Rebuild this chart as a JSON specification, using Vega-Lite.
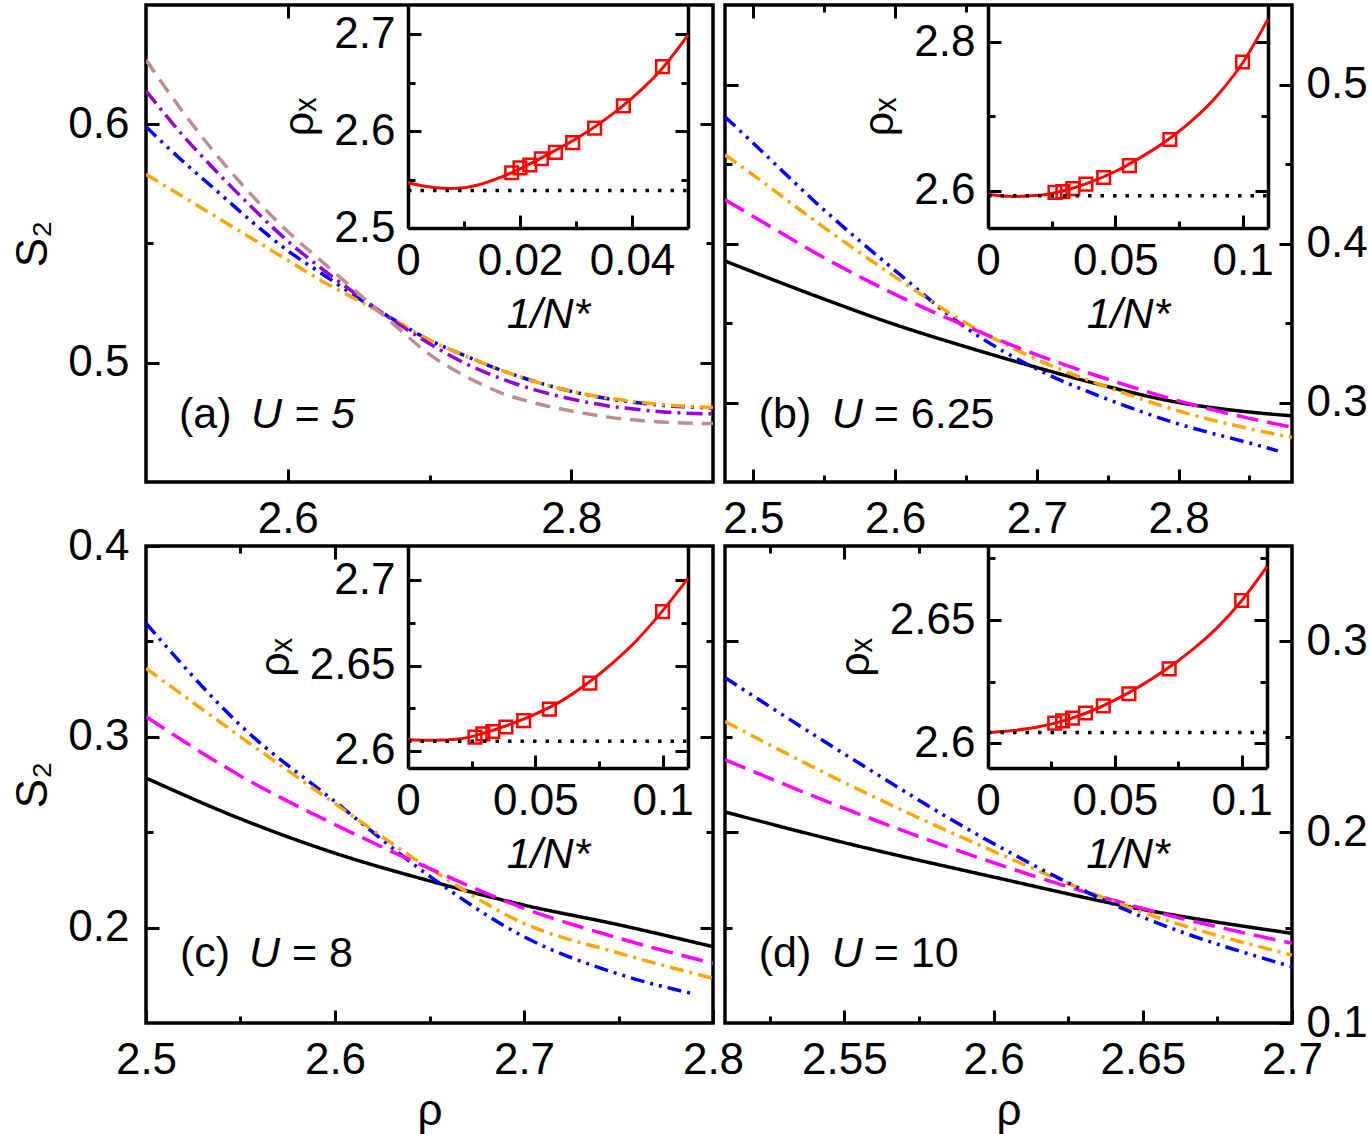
{
  "$schema": "https://vega.github.io/schema/vega-lite/v6.json",
  "background": "white",
  "padding": {"left": 10, "top": 1, "right": 3, "bottom": 3},
  "datasets": {
    "a_main": [
      {"series":"blue","rho":2.5,"S2":0.599},{"series":"blue","rho":2.525,"S2":0.585},{"series":"blue","rho":2.55,"S2":0.572},{"series":"blue","rho":2.575,"S2":0.559},{"series":"blue","rho":2.6,"S2":0.547},{"series":"blue","rho":2.625,"S2":0.537},{"series":"blue","rho":2.65,"S2":0.527},{"series":"blue","rho":2.675,"S2":0.518},{"series":"blue","rho":2.7,"S2":0.5095},{"series":"blue","rho":2.725,"S2":0.503},{"series":"blue","rho":2.75,"S2":0.497},{"series":"blue","rho":2.775,"S2":0.492},{"series":"blue","rho":2.8,"S2":0.488},{"series":"blue","rho":2.825,"S2":0.485},{"series":"blue","rho":2.85,"S2":0.483},{"series":"blue","rho":2.875,"S2":0.4817},{"series":"blue","rho":2.9,"S2":0.481},
      {"series":"orange","rho":2.5,"S2":0.579},{"series":"orange","rho":2.525,"S2":0.570},{"series":"orange","rho":2.55,"S2":0.561},{"series":"orange","rho":2.575,"S2":0.552},{"series":"orange","rho":2.6,"S2":0.543},{"series":"orange","rho":2.625,"S2":0.534},{"series":"orange","rho":2.65,"S2":0.526},{"series":"orange","rho":2.675,"S2":0.518},{"series":"orange","rho":2.7,"S2":0.5095},{"series":"orange","rho":2.725,"S2":0.503},{"series":"orange","rho":2.75,"S2":0.497},{"series":"orange","rho":2.775,"S2":0.492},{"series":"orange","rho":2.8,"S2":0.488},{"series":"orange","rho":2.825,"S2":0.4853},{"series":"orange","rho":2.85,"S2":0.4833},{"series":"orange","rho":2.875,"S2":0.482},{"series":"orange","rho":2.9,"S2":0.4812},
      {"series":"purple","rho":2.5,"S2":0.614},{"series":"purple","rho":2.525,"S2":0.596},{"series":"purple","rho":2.55,"S2":0.580},{"series":"purple","rho":2.575,"S2":0.565},{"series":"purple","rho":2.6,"S2":0.551},{"series":"purple","rho":2.625,"S2":0.539},{"series":"purple","rho":2.65,"S2":0.528},{"series":"purple","rho":2.675,"S2":0.5175},{"series":"purple","rho":2.7,"S2":0.508},{"series":"purple","rho":2.725,"S2":0.4998},{"series":"purple","rho":2.75,"S2":0.4935},{"series":"purple","rho":2.775,"S2":0.4885},{"series":"purple","rho":2.8,"S2":0.4848},{"series":"purple","rho":2.825,"S2":0.482},{"series":"purple","rho":2.85,"S2":0.4802},{"series":"purple","rho":2.875,"S2":0.479},{"series":"purple","rho":2.9,"S2":0.4786},
      {"series":"brown","rho":2.5,"S2":0.627},{"series":"brown","rho":2.525,"S2":0.606},{"series":"brown","rho":2.55,"S2":0.587},{"series":"brown","rho":2.575,"S2":0.570},{"series":"brown","rho":2.6,"S2":0.555},{"series":"brown","rho":2.625,"S2":0.542},{"series":"brown","rho":2.65,"S2":0.529},{"series":"brown","rho":2.675,"S2":0.516},{"series":"brown","rho":2.7,"S2":0.5035},{"series":"brown","rho":2.725,"S2":0.4945},{"series":"brown","rho":2.75,"S2":0.4875},{"series":"brown","rho":2.775,"S2":0.483},{"series":"brown","rho":2.8,"S2":0.4798},{"series":"brown","rho":2.825,"S2":0.4773},{"series":"brown","rho":2.85,"S2":0.4757},{"series":"brown","rho":2.875,"S2":0.4748},{"series":"brown","rho":2.9,"S2":0.4745}
    ],
    "b_main": [
      {"series":"black","rho":2.48,"S2":0.389},{"series":"black","rho":2.5,"S2":0.382},{"series":"black","rho":2.55,"S2":0.365},{"series":"black","rho":2.6,"S2":0.349},{"series":"black","rho":2.65,"S2":0.335},{"series":"black","rho":2.7,"S2":0.322},{"series":"black","rho":2.75,"S2":0.310},{"series":"black","rho":2.8,"S2":0.300},{"series":"black","rho":2.85,"S2":0.294},{"series":"black","rho":2.88,"S2":0.2916},
      {"series":"blue","rho":2.48,"S2":0.4797},{"series":"blue","rho":2.5,"S2":0.463},{"series":"blue","rho":2.55,"S2":0.421},{"series":"blue","rho":2.6,"S2":0.383},{"series":"blue","rho":2.65,"S2":0.347},{"series":"blue","rho":2.7,"S2":0.321},{"series":"blue","rho":2.75,"S2":0.302},{"series":"blue","rho":2.8,"S2":0.2865},{"series":"blue","rho":2.85,"S2":0.2745},{"series":"blue","rho":2.87,"S2":0.2696},
      {"series":"orange","rho":2.48,"S2":0.4558},{"series":"orange","rho":2.5,"S2":0.443},{"series":"orange","rho":2.55,"S2":0.410},{"series":"orange","rho":2.6,"S2":0.379},{"series":"orange","rho":2.65,"S2":0.350},{"series":"orange","rho":2.7,"S2":0.327},{"series":"orange","rho":2.75,"S2":0.3096},{"series":"orange","rho":2.8,"S2":0.2947},{"series":"orange","rho":2.85,"S2":0.2835},{"series":"orange","rho":2.88,"S2":0.278},
      {"series":"magenta","rho":2.48,"S2":0.4276},{"series":"magenta","rho":2.5,"S2":0.417},{"series":"magenta","rho":2.55,"S2":0.391},{"series":"magenta","rho":2.6,"S2":0.368},{"series":"magenta","rho":2.65,"S2":0.348},{"series":"magenta","rho":2.7,"S2":0.330},{"series":"magenta","rho":2.75,"S2":0.3146},{"series":"magenta","rho":2.8,"S2":0.301},{"series":"magenta","rho":2.85,"S2":0.290},{"series":"magenta","rho":2.88,"S2":0.2845}
    ],
    "c_main": [
      {"series":"black","rho":2.5,"S2":0.2784},{"series":"black","rho":2.55,"S2":0.257},{"series":"black","rho":2.6,"S2":0.239},{"series":"black","rho":2.65,"S2":0.2245},{"series":"black","rho":2.7,"S2":0.2118},{"series":"black","rho":2.75,"S2":0.2015},{"series":"black","rho":2.8,"S2":0.190},
      {"series":"blue","rho":2.5,"S2":0.3595},{"series":"blue","rho":2.55,"S2":0.306},{"series":"blue","rho":2.6,"S2":0.266},{"series":"blue","rho":2.65,"S2":0.227},{"series":"blue","rho":2.7,"S2":0.1952},{"series":"blue","rho":2.75,"S2":0.1757},{"series":"blue","rho":2.79,"S2":0.1652},
      {"series":"orange","rho":2.5,"S2":0.3359},{"series":"orange","rho":2.55,"S2":0.300},{"series":"orange","rho":2.6,"S2":0.265},{"series":"orange","rho":2.65,"S2":0.231},{"series":"orange","rho":2.7,"S2":0.2022},{"series":"orange","rho":2.75,"S2":0.1867},{"series":"orange","rho":2.8,"S2":0.1734},
      {"series":"magenta","rho":2.5,"S2":0.3105},{"series":"magenta","rho":2.55,"S2":0.2795},{"series":"magenta","rho":2.6,"S2":0.254},{"series":"magenta","rho":2.65,"S2":0.231},{"series":"magenta","rho":2.7,"S2":0.2101},{"series":"magenta","rho":2.75,"S2":0.1945},{"series":"magenta","rho":2.8,"S2":0.1813}
    ],
    "d_main": [
      {"series":"black","rho":2.51,"S2":0.2106},{"series":"black","rho":2.55,"S2":0.1945},{"series":"black","rho":2.6,"S2":0.1765},{"series":"black","rho":2.65,"S2":0.1595},{"series":"black","rho":2.7,"S2":0.147},
      {"series":"magenta","rho":2.51,"S2":0.238},{"series":"magenta","rho":2.55,"S2":0.2125},{"series":"magenta","rho":2.6,"S2":0.184},{"series":"magenta","rho":2.65,"S2":0.160},{"series":"magenta","rho":2.7,"S2":0.1418},
      {"series":"orange","rho":2.51,"S2":0.258},{"series":"orange","rho":2.55,"S2":0.226},{"series":"orange","rho":2.6,"S2":0.190},{"series":"orange","rho":2.65,"S2":0.158},{"series":"orange","rho":2.7,"S2":0.1356},
      {"series":"blue","rho":2.51,"S2":0.281},{"series":"blue","rho":2.55,"S2":0.241},{"series":"blue","rho":2.6,"S2":0.194},{"series":"blue","rho":2.65,"S2":0.1555},{"series":"blue","rho":2.7,"S2":0.1295}
    ],
    "a_fit": [
      {"invN":0,"rhox":2.547},{"invN":0.0025,"rhox":2.5435},{"invN":0.005,"rhox":2.5415},{"invN":0.0075,"rhox":2.5408},{"invN":0.01,"rhox":2.5415},{"invN":0.0125,"rhox":2.5443},{"invN":0.015,"rhox":2.549},{"invN":0.0175,"rhox":2.5545},{"invN":0.02,"rhox":2.561},{"invN":0.025,"rhox":2.576},{"invN":0.03,"rhox":2.592},{"invN":0.035,"rhox":2.611},{"invN":0.04,"rhox":2.634},{"invN":0.045,"rhox":2.662},{"invN":0.05,"rhox":2.699}
    ],
    "a_pts": [
      {"invN":0.04545,"rhox":2.6664},{"invN":0.03846,"rhox":2.626},{"invN":0.03333,"rhox":2.603},{"invN":0.02941,"rhox":2.588},{"invN":0.02632,"rhox":2.578},{"invN":0.02381,"rhox":2.5714},{"invN":0.02174,"rhox":2.565},{"invN":0.02,"rhox":2.562},{"invN":0.01852,"rhox":2.557}
    ],
    "a_lim": [{"invN":0,"rhox":2.5387},{"invN":0.05,"rhox":2.5387}],
    "b_fit": [
      {"invN":0,"rhox":2.5955},{"invN":0.01,"rhox":2.5925},{"invN":0.02,"rhox":2.594},{"invN":0.03,"rhox":2.6005},{"invN":0.04,"rhox":2.6115},{"invN":0.05,"rhox":2.626},{"invN":0.06,"rhox":2.645},{"invN":0.07,"rhox":2.667},{"invN":0.08,"rhox":2.694},{"invN":0.09,"rhox":2.728},{"invN":0.1,"rhox":2.772},{"invN":0.11,"rhox":2.831}
    ],
    "b_pts": [
      {"invN":0.1,"rhox":2.7733},{"invN":0.07143,"rhox":2.669},{"invN":0.05556,"rhox":2.634},{"invN":0.04545,"rhox":2.618},{"invN":0.03846,"rhox":2.609},{"invN":0.03333,"rhox":2.603},{"invN":0.02941,"rhox":2.599},{"invN":0.02632,"rhox":2.598}
    ],
    "b_lim": [{"invN":0,"rhox":2.5935},{"invN":0.11,"rhox":2.5935}],
    "c_fit": [
      {"invN":0,"rhox":2.6065},{"invN":0.01,"rhox":2.6062},{"invN":0.02,"rhox":2.607},{"invN":0.03,"rhox":2.6105},{"invN":0.04,"rhox":2.6155},{"invN":0.05,"rhox":2.6215},{"invN":0.06,"rhox":2.629},{"invN":0.07,"rhox":2.639},{"invN":0.08,"rhox":2.651},{"invN":0.09,"rhox":2.665},{"invN":0.1,"rhox":2.682},{"invN":0.11,"rhox":2.701}
    ],
    "c_pts": [
      {"invN":0.1,"rhox":2.6816},{"invN":0.07143,"rhox":2.6397},{"invN":0.05556,"rhox":2.6245},{"invN":0.04545,"rhox":2.6177},{"invN":0.03846,"rhox":2.614},{"invN":0.03333,"rhox":2.6114},{"invN":0.02941,"rhox":2.61},{"invN":0.02632,"rhox":2.6081}
    ],
    "c_lim": [{"invN":0,"rhox":2.6056},{"invN":0.11,"rhox":2.6056}],
    "d_fit": [
      {"invN":0,"rhox":2.6044},{"invN":0.01,"rhox":2.6052},{"invN":0.02,"rhox":2.6067},{"invN":0.03,"rhox":2.6092},{"invN":0.04,"rhox":2.6128},{"invN":0.05,"rhox":2.6175},{"invN":0.06,"rhox":2.6232},{"invN":0.07,"rhox":2.6298},{"invN":0.08,"rhox":2.6375},{"invN":0.09,"rhox":2.6465},{"invN":0.1,"rhox":2.6578},{"invN":0.11,"rhox":2.6716}
    ],
    "d_pts": [
      {"invN":0.1,"rhox":2.6579},{"invN":0.07143,"rhox":2.6302},{"invN":0.05556,"rhox":2.6201},{"invN":0.04545,"rhox":2.6152},{"invN":0.03846,"rhox":2.6123},{"invN":0.03333,"rhox":2.6102},{"invN":0.02941,"rhox":2.6091},{"invN":0.02632,"rhox":2.6082}
    ],
    "d_lim": [{"invN":0,"rhox":2.6044},{"invN":0.11,"rhox":2.6044}],
    "labels": [
      {"panel":"a","tag":"(a)","ital":"U = 5","rom":""},
      {"panel":"b","tag":"(b)","ital":"U","rom":"= 6.25"},
      {"panel":"c","tag":"(c)","ital":"U","rom":"= 8"},
      {"panel":"d","tag":"(d)","ital":"U","rom":"= 10"}
    ]
  },
  "columns": 2,
  "spacing": {"row": 64, "column": 12},
  "bounds": "flush",
  "concat": [
    {
      "width": 567, "height": 477,
      "resolve": {"scale": {"x": "independent", "y": "independent"}},
      "layer": [
        {
          "data": {"name": "a_main"},
          "mark": {"type": "line", "strokeWidth": 3.5, "clip": true, "interpolate": "monotone"},
          "encoding": {
            "x": {"field": "rho", "type": "quantitative", "scale": {"domain": [2.5, 2.9], "nice": false, "zero": false},
              "axis": {"orient": "bottom", "values": [2.6, 2.7, 2.8], "domain": false, "title": null, "labelPadding": 28,
                "labelExpr": "indexof([2.6,2.8], datum.value) >= 0 ? format(datum.value, '~g') : ''",
                "tickSize": {"condition": {"test": "indexof([2.6,2.8], datum.value) >= 0", "value": -13}, "value": -7}}},
            "y": {"field": "S2", "type": "quantitative", "scale": {"domain": [0.45, 0.65], "nice": false, "zero": false},
              "axis": {"orient": "left", "values": [0.5, 0.55, 0.6], "domain": false, "title": "S₂", "titlePadding": 12, "labelPadding": 30,
                "labelExpr": "indexof([0.5,0.6], datum.value) >= 0 ? format(datum.value, '~g') : ''",
                "tickSize": {"condition": {"test": "indexof([0.5,0.6], datum.value) >= 0", "value": -13}, "value": -7}}},
            "color": {"field": "series", "type": "nominal", "legend": null, "scale": {"domain": ["blue","orange","purple","brown","magenta","black"], "range": ["#0000ff","#ffa500","#9400d3","#bc8f8f","#ff00ff","#000000"]}},
            "strokeDash": {"field": "series", "type": "nominal", "legend": null, "scale": {"domain": ["blue","orange","purple","brown","magenta","black"], "range": [[14,6,3,6,3,6],[14,6,3,6],[16,6,3,6],[15,9],[22,9],[1,0]]}}
          }
        },
        {
          "data": {"name": "a_main"},
          "mark": {"type": "point", "opacity": 0},
          "encoding": {
            "x": {"field": "rho", "type": "quantitative", "scale": {"domain": [2.5, 2.9], "nice": false, "zero": false},
              "axis": {"orient": "top", "values": [2.6], "domain": false, "labels": false, "title": null, "tickSize": -13}},
            "y": {"field": "S2", "type": "quantitative", "scale": {"domain": [0.45, 0.65], "nice": false, "zero": false},
              "axis": {"orient": "right", "values": [0.5, 0.55, 0.6], "domain": false, "labels": false, "title": null,
                "tickSize": {"condition": {"test": "indexof([0.5,0.6], datum.value) >= 0", "value": -13}, "value": -7}}}
          }
        },
        {
          "data": {"name": "labels"},
          "transform": [{"filter": "datum.panel === 'a'"}],
          "mark": {"type": "text", "align": "left", "baseline": "alphabetic", "fontSize": 43},
          "encoding": {
            "x": {"datum": 2.5233, "type": "quantitative", "scale": {"domain": [2.5, 2.9], "nice": false, "zero": false}, "axis": null},
            "y": {"datum": 0.4726, "type": "quantitative", "scale": {"domain": [0.45, 0.65], "nice": false, "zero": false}, "axis": null},
            "text": {"field": "tag"}
          }
        },
        {
          "data": {"name": "labels"},
          "transform": [{"filter": "datum.panel === 'a'"}],
          "mark": {"type": "text", "align": "left", "baseline": "alphabetic", "fontSize": 43, "fontStyle": "italic", "dx": 72},
          "encoding": {
            "x": {"datum": 2.5233, "type": "quantitative", "scale": {"domain": [2.5, 2.9], "nice": false, "zero": false}, "axis": null},
            "y": {"datum": 0.4726, "type": "quantitative", "scale": {"domain": [0.45, 0.65], "nice": false, "zero": false}, "axis": null},
            "text": {"field": "ital"}
          }
        },
        {
          "data": {"name": "a_fit"},
          "mark": {"type": "line", "color": "#ff0000", "strokeWidth": 3, "interpolate": "monotone"},
          "encoding": {
            "x": {"field": "invN", "type": "quantitative", "scale": {"domain": [0, 0.05], "range": [262, 542], "nice": false, "zero": false},
              "axis": {"orient": "bottom", "offset": -254, "values": [0, 0.01, 0.02, 0.03, 0.04], "domain": true, "labelPadding": 24,
                "title": "1/N*", "titleFontStyle": "italic", "titleFontSize": 43, "titlePadding": 4,
                "labelExpr": "indexof([0,0.02,0.04], datum.value) >= 0 ? format(datum.value, '~g') : ''",
                "tickSize": {"condition": {"test": "indexof([0,0.02,0.04], datum.value) >= 0", "value": -13}, "value": -7}}},
            "y": {"field": "rhox", "type": "quantitative", "scale": {"domain": [2.5, 2.73], "range": [223, 0], "nice": false, "zero": false},
              "axis": {"orient": "left", "offset": -262, "values": [2.5, 2.55, 2.6, 2.65, 2.7], "domain": true, "labelPadding": 26,
                "title": "ρₓ", "titleFontSize": 43, "titlePadding": 12,
                "labelExpr": "indexof([2.5,2.6,2.7], datum.value) >= 0 ? format(datum.value, '~g') : ''",
                "tickSize": {"condition": {"test": "indexof([2.5,2.6,2.7], datum.value) >= 0", "value": -13}, "value": -7}}}
          }
        },
        {
          "data": {"name": "a_pts"},
          "mark": {"type": "point", "shape": "square", "filled": false, "color": "#ff0000", "strokeWidth": 2.5, "size": 160, "opacity": 1},
          "encoding": {
            "x": {"field": "invN", "type": "quantitative", "scale": {"domain": [0, 0.05], "range": [262, 542], "nice": false, "zero": false}, "axis": null},
            "y": {"field": "rhox", "type": "quantitative", "scale": {"domain": [2.5, 2.73], "range": [223, 0], "nice": false, "zero": false},
              "axis": {"orient": "right", "offset": -25, "values": [2.5, 2.55, 2.6, 2.65, 2.7], "domain": true, "labels": false, "title": null,
                "tickSize": {"condition": {"test": "indexof([2.5,2.6,2.7], datum.value) >= 0", "value": -13}, "value": -7}}}
          }
        },
        {
          "data": {"name": "a_lim"},
          "mark": {"type": "line", "color": "black", "strokeWidth": 3.5, "strokeDash": [3.5, 9]},
          "encoding": {
            "x": {"field": "invN", "type": "quantitative", "scale": {"domain": [0, 0.05], "range": [262, 542], "nice": false, "zero": false}, "axis": null},
            "y": {"field": "rhox", "type": "quantitative", "scale": {"domain": [2.5, 2.73], "range": [223, 0], "nice": false, "zero": false}, "axis": null}
          }
        }
      ]
    },
    {
      "width": 567, "height": 477,
      "resolve": {"scale": {"x": "independent", "y": "independent"}},
      "layer": [
        {
          "data": {"name": "b_main"},
          "mark": {"type": "line", "strokeWidth": 3.5, "clip": true, "interpolate": "monotone"},
          "encoding": {
            "x": {"field": "rho", "type": "quantitative", "scale": {"domain": [2.48, 2.88], "nice": false, "zero": false},
              "axis": {"orient": "bottom", "values": [2.5, 2.55, 2.6, 2.65, 2.7, 2.75, 2.8, 2.85], "domain": false, "title": null, "labelPadding": 28,
                "labelExpr": "indexof([2.5,2.6,2.7,2.8], datum.value) >= 0 ? format(datum.value, '~g') : ''",
                "tickSize": {"condition": {"test": "indexof([2.5,2.6,2.7,2.8], datum.value) >= 0", "value": -13}, "value": -7}}},
            "y": {"field": "S2", "type": "quantitative", "scale": {"domain": [0.25, 0.55], "nice": false, "zero": false},
              "axis": {"orient": "right", "values": [0.3, 0.35, 0.4, 0.45, 0.5], "domain": false, "title": null, "labelPadding": 27,
                "labelExpr": "indexof([0.3,0.4,0.5], datum.value) >= 0 ? format(datum.value, '~g') : ''",
                "tickSize": {"condition": {"test": "indexof([0.3,0.4,0.5], datum.value) >= 0", "value": -13}, "value": -7}}},
            "color": {"field": "series", "type": "nominal", "legend": null, "scale": {"domain": ["blue","orange","purple","brown","magenta","black"], "range": ["#0000ff","#ffa500","#9400d3","#bc8f8f","#ff00ff","#000000"]}},
            "strokeDash": {"field": "series", "type": "nominal", "legend": null, "scale": {"domain": ["blue","orange","purple","brown","magenta","black"], "range": [[14,6,3,6,3,6],[14,6,3,6],[16,6,3,6],[15,9],[22,9],[1,0]]}}
          }
        },
        {
          "data": {"name": "b_main"},
          "mark": {"type": "point", "opacity": 0},
          "encoding": {
            "x": {"field": "rho", "type": "quantitative", "scale": {"domain": [2.48, 2.88], "nice": false, "zero": false},
              "axis": {"orient": "top", "values": [2.5, 2.55, 2.6, 2.65], "domain": false, "labels": false, "title": null,
                "tickSize": {"condition": {"test": "indexof([2.5,2.6], datum.value) >= 0", "value": -13}, "value": -7}}},
            "y": {"field": "S2", "type": "quantitative", "scale": {"domain": [0.25, 0.55], "nice": false, "zero": false},
              "axis": {"orient": "left", "values": [0.3, 0.35, 0.4, 0.45, 0.5], "domain": false, "labels": false, "title": null,
                "tickSize": {"condition": {"test": "indexof([0.3,0.4,0.5], datum.value) >= 0", "value": -13}, "value": -7}}}
          }
        },
        {
          "data": {"name": "labels"},
          "transform": [{"filter": "datum.panel === 'b'"}],
          "mark": {"type": "text", "align": "left", "baseline": "alphabetic", "fontSize": 43},
          "encoding": {
            "x": {"datum": 2.5038, "type": "quantitative", "scale": {"domain": [2.48, 2.88], "nice": false, "zero": false}, "axis": null},
            "y": {"datum": 0.284, "type": "quantitative", "scale": {"domain": [0.25, 0.55], "nice": false, "zero": false}, "axis": null},
            "text": {"field": "tag"}
          }
        },
        {
          "data": {"name": "labels"},
          "transform": [{"filter": "datum.panel === 'b'"}],
          "mark": {"type": "text", "align": "left", "baseline": "alphabetic", "fontSize": 43, "fontStyle": "italic", "dx": 73},
          "encoding": {
            "x": {"datum": 2.5038, "type": "quantitative", "scale": {"domain": [2.48, 2.88], "nice": false, "zero": false}, "axis": null},
            "y": {"datum": 0.284, "type": "quantitative", "scale": {"domain": [0.25, 0.55], "nice": false, "zero": false}, "axis": null},
            "text": {"field": "ital"}
          }
        },
        {
          "data": {"name": "labels"},
          "transform": [{"filter": "datum.panel === 'b'"}],
          "mark": {"type": "text", "align": "left", "baseline": "alphabetic", "fontSize": 43, "dx": 115},
          "encoding": {
            "x": {"datum": 2.5038, "type": "quantitative", "scale": {"domain": [2.48, 2.88], "nice": false, "zero": false}, "axis": null},
            "y": {"datum": 0.284, "type": "quantitative", "scale": {"domain": [0.25, 0.55], "nice": false, "zero": false}, "axis": null},
            "text": {"field": "rom"}
          }
        },
        {
          "data": {"name": "b_fit"},
          "mark": {"type": "line", "color": "#ff0000", "strokeWidth": 3, "interpolate": "monotone"},
          "encoding": {
            "x": {"field": "invN", "type": "quantitative", "scale": {"domain": [0, 0.11], "range": [263, 543], "nice": false, "zero": false},
              "axis": {"orient": "bottom", "offset": -254, "values": [0, 0.025, 0.05, 0.075, 0.1], "domain": true, "labelPadding": 24,
                "title": "1/N*", "titleFontStyle": "italic", "titleFontSize": 43, "titlePadding": 4,
                "labelExpr": "indexof([0,0.05,0.1], datum.value) >= 0 ? format(datum.value, '~g') : ''",
                "tickSize": {"condition": {"test": "indexof([0,0.05,0.1], datum.value) >= 0", "value": -13}, "value": -7}}},
            "y": {"field": "rhox", "type": "quantitative", "scale": {"domain": [2.55, 2.85], "range": [223, 0], "nice": false, "zero": false},
              "axis": {"orient": "left", "offset": -263, "values": [2.6, 2.7, 2.8], "domain": true, "labelPadding": 26,
                "title": "ρₓ", "titleFontSize": 43, "titlePadding": 12,
                "labelExpr": "indexof([2.6,2.8], datum.value) >= 0 ? format(datum.value, '~g') : ''",
                "tickSize": {"condition": {"test": "indexof([2.6,2.8], datum.value) >= 0", "value": -13}, "value": -7}}}
          }
        },
        {
          "data": {"name": "b_pts"},
          "mark": {"type": "point", "shape": "square", "filled": false, "color": "#ff0000", "strokeWidth": 2.5, "size": 160, "opacity": 1},
          "encoding": {
            "x": {"field": "invN", "type": "quantitative", "scale": {"domain": [0, 0.11], "range": [263, 543], "nice": false, "zero": false}, "axis": null},
            "y": {"field": "rhox", "type": "quantitative", "scale": {"domain": [2.55, 2.85], "range": [223, 0], "nice": false, "zero": false},
              "axis": {"orient": "right", "offset": -24, "values": [2.6, 2.7, 2.8], "domain": true, "labels": false, "title": null,
                "tickSize": {"condition": {"test": "indexof([2.6,2.8], datum.value) >= 0", "value": -13}, "value": -7}}}
          }
        },
        {
          "data": {"name": "b_lim"},
          "mark": {"type": "line", "color": "black", "strokeWidth": 3.5, "strokeDash": [3.5, 9]},
          "encoding": {
            "x": {"field": "invN", "type": "quantitative", "scale": {"domain": [0, 0.11], "range": [263, 543], "nice": false, "zero": false}, "axis": null},
            "y": {"field": "rhox", "type": "quantitative", "scale": {"domain": [2.55, 2.85], "range": [223, 0], "nice": false, "zero": false}, "axis": null}
          }
        }
      ]
    },
    {
      "width": 567, "height": 477,
      "resolve": {"scale": {"x": "independent", "y": "independent"}},
      "layer": [
        {
          "data": {"name": "c_main"},
          "mark": {"type": "line", "strokeWidth": 3.5, "clip": true, "interpolate": "monotone"},
          "encoding": {
            "x": {"field": "rho", "type": "quantitative", "scale": {"domain": [2.5, 2.8], "nice": false, "zero": false},
              "axis": {"orient": "bottom", "values": [2.5, 2.55, 2.6, 2.65, 2.7, 2.75, 2.8], "domain": false, "title": "ρ", "titleFontSize": 44, "titlePadding": 1, "labelPadding": 28,
                "labelExpr": "indexof([2.5,2.6,2.7,2.8], datum.value) >= 0 ? format(datum.value, '~g') : ''",
                "tickSize": {"condition": {"test": "indexof([2.5,2.6,2.7,2.8], datum.value) >= 0", "value": -13}, "value": -7}}},
            "y": {"field": "S2", "type": "quantitative", "scale": {"domain": [0.15, 0.4], "nice": false, "zero": false},
              "axis": {"orient": "left", "values": [0.2, 0.25, 0.3, 0.35, 0.4], "domain": false, "title": "S₂", "titlePadding": 12, "labelPadding": 30,
                "labelExpr": "indexof([0.2,0.3,0.4], datum.value) >= 0 ? format(datum.value, '~g') : ''",
                "tickSize": {"condition": {"test": "indexof([0.2,0.3,0.4], datum.value) >= 0", "value": -13}, "value": -7}}},
            "color": {"field": "series", "type": "nominal", "legend": null, "scale": {"domain": ["blue","orange","purple","brown","magenta","black"], "range": ["#0000ff","#ffa500","#9400d3","#bc8f8f","#ff00ff","#000000"]}},
            "strokeDash": {"field": "series", "type": "nominal", "legend": null, "scale": {"domain": ["blue","orange","purple","brown","magenta","black"], "range": [[14,6,3,6,3,6],[14,6,3,6],[16,6,3,6],[15,9],[22,9],[1,0]]}}
          }
        },
        {
          "data": {"name": "c_main"},
          "mark": {"type": "point", "opacity": 0},
          "encoding": {
            "x": {"field": "rho", "type": "quantitative", "scale": {"domain": [2.5, 2.8], "nice": false, "zero": false},
              "axis": {"orient": "top", "values": [2.55, 2.6], "domain": false, "labels": false, "title": null,
                "tickSize": {"condition": {"test": "indexof([2.6], datum.value) >= 0", "value": -13}, "value": -7}}},
            "y": {"field": "S2", "type": "quantitative", "scale": {"domain": [0.15, 0.4], "nice": false, "zero": false},
              "axis": {"orient": "right", "values": [0.2, 0.25, 0.3, 0.35], "domain": false, "labels": false, "title": null,
                "tickSize": {"condition": {"test": "indexof([0.2,0.3], datum.value) >= 0", "value": -13}, "value": -7}}}
          }
        },
        {
          "data": {"name": "labels"},
          "transform": [{"filter": "datum.panel === 'c'"}],
          "mark": {"type": "text", "align": "left", "baseline": "alphabetic", "fontSize": 43},
          "encoding": {
            "x": {"datum": 2.518, "type": "quantitative", "scale": {"domain": [2.5, 2.8], "nice": false, "zero": false}, "axis": null},
            "y": {"datum": 0.1794, "type": "quantitative", "scale": {"domain": [0.15, 0.4], "nice": false, "zero": false}, "axis": null},
            "text": {"field": "tag"}
          }
        },
        {
          "data": {"name": "labels"},
          "transform": [{"filter": "datum.panel === 'c'"}],
          "mark": {"type": "text", "align": "left", "baseline": "alphabetic", "fontSize": 43, "fontStyle": "italic", "dx": 69},
          "encoding": {
            "x": {"datum": 2.518, "type": "quantitative", "scale": {"domain": [2.5, 2.8], "nice": false, "zero": false}, "axis": null},
            "y": {"datum": 0.1794, "type": "quantitative", "scale": {"domain": [0.15, 0.4], "nice": false, "zero": false}, "axis": null},
            "text": {"field": "ital"}
          }
        },
        {
          "data": {"name": "labels"},
          "transform": [{"filter": "datum.panel === 'c'"}],
          "mark": {"type": "text", "align": "left", "baseline": "alphabetic", "fontSize": 43, "dx": 112},
          "encoding": {
            "x": {"datum": 2.518, "type": "quantitative", "scale": {"domain": [2.5, 2.8], "nice": false, "zero": false}, "axis": null},
            "y": {"datum": 0.1794, "type": "quantitative", "scale": {"domain": [0.15, 0.4], "nice": false, "zero": false}, "axis": null},
            "text": {"field": "rom"}
          }
        },
        {
          "data": {"name": "c_fit"},
          "mark": {"type": "line", "color": "#ff0000", "strokeWidth": 3, "interpolate": "monotone"},
          "encoding": {
            "x": {"field": "invN", "type": "quantitative", "scale": {"domain": [0, 0.11], "range": [262, 542], "nice": false, "zero": false},
              "axis": {"orient": "bottom", "offset": -255, "values": [0, 0.025, 0.05, 0.075, 0.1], "domain": true, "labelPadding": 24,
                "title": "1/N*", "titleFontStyle": "italic", "titleFontSize": 43, "titlePadding": 4,
                "labelExpr": "indexof([0,0.05,0.1], datum.value) >= 0 ? format(datum.value, '~g') : ''",
                "tickSize": {"condition": {"test": "indexof([0,0.05,0.1], datum.value) >= 0", "value": -13}, "value": -7}}},
            "y": {"field": "rhox", "type": "quantitative", "scale": {"domain": [2.59, 2.72], "range": [222, 0], "nice": false, "zero": false},
              "axis": {"orient": "left", "offset": -262, "values": [2.6, 2.625, 2.65, 2.675, 2.7], "domain": true, "labelPadding": 26,
                "title": "ρₓ", "titleFontSize": 43, "titlePadding": 12,
                "labelExpr": "indexof([2.6,2.65,2.7], datum.value) >= 0 ? format(datum.value, '~g') : ''",
                "tickSize": {"condition": {"test": "indexof([2.6,2.65,2.7], datum.value) >= 0", "value": -13}, "value": -7}}}
          }
        },
        {
          "data": {"name": "c_pts"},
          "mark": {"type": "point", "shape": "square", "filled": false, "color": "#ff0000", "strokeWidth": 2.5, "size": 160, "opacity": 1},
          "encoding": {
            "x": {"field": "invN", "type": "quantitative", "scale": {"domain": [0, 0.11], "range": [262, 542], "nice": false, "zero": false}, "axis": null},
            "y": {"field": "rhox", "type": "quantitative", "scale": {"domain": [2.59, 2.72], "range": [222, 0], "nice": false, "zero": false},
              "axis": {"orient": "right", "offset": -25, "values": [2.6, 2.625, 2.65, 2.675, 2.7], "domain": true, "labels": false, "title": null,
                "tickSize": {"condition": {"test": "indexof([2.6,2.65,2.7], datum.value) >= 0", "value": -13}, "value": -7}}}
          }
        },
        {
          "data": {"name": "c_lim"},
          "mark": {"type": "line", "color": "black", "strokeWidth": 3.5, "strokeDash": [3.5, 9]},
          "encoding": {
            "x": {"field": "invN", "type": "quantitative", "scale": {"domain": [0, 0.11], "range": [262, 542], "nice": false, "zero": false}, "axis": null},
            "y": {"field": "rhox", "type": "quantitative", "scale": {"domain": [2.59, 2.72], "range": [222, 0], "nice": false, "zero": false}, "axis": null}
          }
        }
      ]
    },
    {
      "width": 567, "height": 477,
      "resolve": {"scale": {"x": "independent", "y": "independent"}},
      "layer": [
        {
          "data": {"name": "d_main"},
          "mark": {"type": "line", "strokeWidth": 3.5, "clip": true, "interpolate": "monotone"},
          "encoding": {
            "x": {"field": "rho", "type": "quantitative", "scale": {"domain": [2.51, 2.7], "nice": false, "zero": false},
              "axis": {"orient": "bottom", "values": [2.525, 2.55, 2.575, 2.6, 2.625, 2.65, 2.675, 2.7], "domain": false, "title": "ρ", "titleFontSize": 44, "titlePadding": 1, "labelPadding": 28,
                "labelExpr": "indexof([2.55,2.6,2.65,2.7], datum.value) >= 0 ? format(datum.value, '~g') : ''",
                "tickSize": {"condition": {"test": "indexof([2.55,2.6,2.65,2.7], datum.value) >= 0", "value": -13}, "value": -7}}},
            "y": {"field": "S2", "type": "quantitative", "scale": {"domain": [0.1, 0.35], "nice": false, "zero": false},
              "axis": {"orient": "right", "values": [0.1, 0.15, 0.2, 0.25, 0.3], "domain": false, "title": null, "labelPadding": 27,
                "labelExpr": "indexof([0.1,0.2,0.3], datum.value) >= 0 ? format(datum.value, '~g') : ''",
                "tickSize": {"condition": {"test": "indexof([0.1,0.2,0.3], datum.value) >= 0", "value": -13}, "value": -7}}},
            "color": {"field": "series", "type": "nominal", "legend": null, "scale": {"domain": ["blue","orange","purple","brown","magenta","black"], "range": ["#0000ff","#ffa500","#9400d3","#bc8f8f","#ff00ff","#000000"]}},
            "strokeDash": {"field": "series", "type": "nominal", "legend": null, "scale": {"domain": ["blue","orange","purple","brown","magenta","black"], "range": [[14,6,3,6,3,6],[14,6,3,6],[16,6,3,6],[15,9],[22,9],[1,0]]}}
          }
        },
        {
          "data": {"name": "d_main"},
          "mark": {"type": "point", "opacity": 0},
          "encoding": {
            "x": {"field": "rho", "type": "quantitative", "scale": {"domain": [2.51, 2.7], "nice": false, "zero": false},
              "axis": {"orient": "top", "values": [2.525, 2.55, 2.575], "domain": false, "labels": false, "title": null,
                "tickSize": {"condition": {"test": "indexof([2.55], datum.value) >= 0", "value": -13}, "value": -7}}},
            "y": {"field": "S2", "type": "quantitative", "scale": {"domain": [0.1, 0.35], "nice": false, "zero": false},
              "axis": {"orient": "left", "values": [0.15, 0.2, 0.25, 0.3], "domain": false, "labels": false, "title": null,
                "tickSize": {"condition": {"test": "indexof([0.2,0.3], datum.value) >= 0", "value": -13}, "value": -7}}}
          }
        },
        {
          "data": {"name": "labels"},
          "transform": [{"filter": "datum.panel === 'd'"}],
          "mark": {"type": "text", "align": "left", "baseline": "alphabetic", "fontSize": 43},
          "encoding": {
            "x": {"datum": 2.5213, "type": "quantitative", "scale": {"domain": [2.51, 2.7], "nice": false, "zero": false}, "axis": null},
            "y": {"datum": 0.1294, "type": "quantitative", "scale": {"domain": [0.1, 0.35], "nice": false, "zero": false}, "axis": null},
            "text": {"field": "tag"}
          }
        },
        {
          "data": {"name": "labels"},
          "transform": [{"filter": "datum.panel === 'd'"}],
          "mark": {"type": "text", "align": "left", "baseline": "alphabetic", "fontSize": 43, "fontStyle": "italic", "dx": 73},
          "encoding": {
            "x": {"datum": 2.5213, "type": "quantitative", "scale": {"domain": [2.51, 2.7], "nice": false, "zero": false}, "axis": null},
            "y": {"datum": 0.1294, "type": "quantitative", "scale": {"domain": [0.1, 0.35], "nice": false, "zero": false}, "axis": null},
            "text": {"field": "ital"}
          }
        },
        {
          "data": {"name": "labels"},
          "transform": [{"filter": "datum.panel === 'd'"}],
          "mark": {"type": "text", "align": "left", "baseline": "alphabetic", "fontSize": 43, "dx": 115},
          "encoding": {
            "x": {"datum": 2.5213, "type": "quantitative", "scale": {"domain": [2.51, 2.7], "nice": false, "zero": false}, "axis": null},
            "y": {"datum": 0.1294, "type": "quantitative", "scale": {"domain": [0.1, 0.35], "nice": false, "zero": false}, "axis": null},
            "text": {"field": "rom"}
          }
        },
        {
          "data": {"name": "d_fit"},
          "mark": {"type": "line", "color": "#ff0000", "strokeWidth": 3, "interpolate": "monotone"},
          "encoding": {
            "x": {"field": "invN", "type": "quantitative", "scale": {"domain": [0, 0.11], "range": [263, 542], "nice": false, "zero": false},
              "axis": {"orient": "bottom", "offset": -255, "values": [0, 0.025, 0.05, 0.075, 0.1], "domain": true, "labelPadding": 24,
                "title": "1/N*", "titleFontStyle": "italic", "titleFontSize": 43, "titlePadding": 4,
                "labelExpr": "indexof([0,0.05,0.1], datum.value) >= 0 ? format(datum.value, '~g') : ''",
                "tickSize": {"condition": {"test": "indexof([0,0.05,0.1], datum.value) >= 0", "value": -13}, "value": -7}}},
            "y": {"field": "rhox", "type": "quantitative", "scale": {"domain": [2.59, 2.68], "range": [222, 0], "nice": false, "zero": false},
              "axis": {"orient": "left", "offset": -263, "values": [2.6, 2.625, 2.65, 2.675], "domain": true, "labelPadding": 26,
                "title": "ρₓ", "titleFontSize": 43, "titlePadding": 12,
                "labelExpr": "indexof([2.6,2.65], datum.value) >= 0 ? format(datum.value, '~g') : ''",
                "tickSize": {"condition": {"test": "indexof([2.6,2.65], datum.value) >= 0", "value": -13}, "value": -7}}}
          }
        },
        {
          "data": {"name": "d_pts"},
          "mark": {"type": "point", "shape": "square", "filled": false, "color": "#ff0000", "strokeWidth": 2.5, "size": 160, "opacity": 1},
          "encoding": {
            "x": {"field": "invN", "type": "quantitative", "scale": {"domain": [0, 0.11], "range": [263, 542], "nice": false, "zero": false}, "axis": null},
            "y": {"field": "rhox", "type": "quantitative", "scale": {"domain": [2.59, 2.68], "range": [222, 0], "nice": false, "zero": false},
              "axis": {"orient": "right", "offset": -25, "values": [2.6, 2.625, 2.65, 2.675], "domain": true, "labels": false, "title": null,
                "tickSize": {"condition": {"test": "indexof([2.6,2.65], datum.value) >= 0", "value": -13}, "value": -7}}}
          }
        },
        {
          "data": {"name": "d_lim"},
          "mark": {"type": "line", "color": "black", "strokeWidth": 3.5, "strokeDash": [3.5, 9]},
          "encoding": {
            "x": {"field": "invN", "type": "quantitative", "scale": {"domain": [0, 0.11], "range": [263, 542], "nice": false, "zero": false}, "axis": null},
            "y": {"field": "rhox", "type": "quantitative", "scale": {"domain": [2.59, 2.68], "range": [222, 0], "nice": false, "zero": false}, "axis": null}
          }
        }
      ]
    }
  ],
  "config": {
    "view": {"stroke": "black", "strokeWidth": 3.5},
    "font": "Liberation Sans",
    "axis": {"labelFont": "Liberation Sans", "labelFontSize": 44, "labelColor": "black", "titleFont": "Liberation Sans", "titleFontSize": 44, "titleFontWeight": "normal", "titleColor": "black", "tickColor": "black", "tickWidth": 3, "domainColor": "black", "domainWidth": 3.5, "grid": false, "labelFlush": false, "labelOverlap": false, "labelBound": false},
    "text": {"font": "Liberation Sans", "fontSize": 43, "color": "black"}
  }
}
